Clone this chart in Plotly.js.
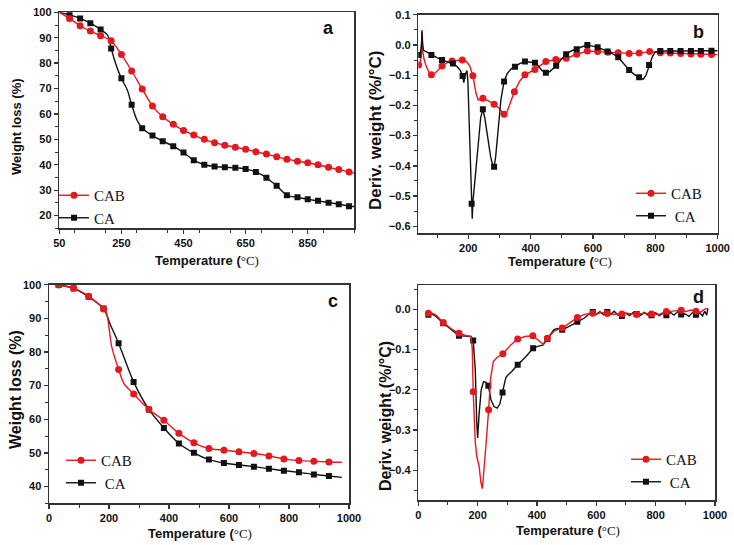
<!DOCTYPE html>
<html>
<head>
<meta charset="utf-8">
<script src="https://cdn.plot.ly/plotly-3.0.1.min.js"></script>
<style>
    html, body { margin: 0; padding: 0; background: #fff; }
    #chart { width: 734px; height: 545px; }
</style>
</head>
<body>
<div id="chart"></div>
<script>
// ── Data (a: TGA, b: DTG, c: TGA, d: DTG) ──
// "Mark" arrays are the sampled points that carry a symbol,
// "Line" arrays are extra points the curve passes through.

const aCabMarkT = [83, 117, 150, 183, 217, 250, 283, 317, 350, 383, 417, 450, 483, 517, 550, 583, 617, 650, 683, 717, 750, 783, 817, 850, 883, 917, 950, 983];
const aCabMarkW = [97.6, 94.7, 92.6, 90.8, 88.8, 83.4, 76.9, 69.8, 63.1, 58.9, 55.9, 53.5, 51.7, 50.0, 48.7, 47.7, 46.9, 46.1, 45.1, 44.2, 43.2, 42.2, 41.4, 40.8, 40.0, 39.0, 38.1, 37.2];
const aCabLineT = [50, 1000];
const aCabLineW = [100, 36.7];
const aCaMarkT  = [83, 117, 150, 183, 217, 250, 283, 317, 350, 383, 417, 450, 483, 517, 550, 583, 617, 650, 683, 717, 750, 783, 817, 850, 883, 917, 950, 983];
const aCaMarkW  = [99.0, 97.6, 95.7, 93.2, 85.8, 74.0, 63.6, 54.4, 51.5, 49.3, 47.3, 44.8, 41.8, 40.0, 39.3, 39.0, 38.8, 38.3, 37.2, 34.9, 31.7, 28.0, 27.2, 26.4, 25.8, 25.1, 24.5, 23.7];
const aCaLineT  = [50, 203, 210, 235, 269, 300, 1000];
const aCaLineW  = [100, 91.3, 89.8, 78.6, 69.4, 57.6, 23.6];

const bCabMarkT = [41, 82, 116, 148, 181, 215, 247, 283, 315, 348, 382, 414, 449, 481, 514, 548, 582, 615, 648, 681, 716, 748, 782, 816, 848, 881, 914, 946, 980];
const bCabMarkV = [-0.066, -0.099, -0.07, -0.053, -0.05, -0.102, -0.176, -0.196, -0.229, -0.155, -0.099, -0.081, -0.055, -0.048, -0.044, -0.031, -0.02, -0.022, -0.024, -0.026, -0.028, -0.027, -0.022, -0.026, -0.027, -0.028, -0.03, -0.031, -0.032];
const bCabLineT = [46, 50, 52, 54, 58, 65, 75, 95, 130, 195, 205, 225, 232, 265, 300, 322, 335, 365, 1000];
const bCabLineV = [-0.06, -0.02, 0.05, -0.02, -0.045, -0.07, -0.092, -0.092, -0.06, -0.055, -0.07, -0.16, -0.182, -0.185, -0.21, -0.228, -0.19, -0.12, -0.032];
const bCaMarkT  = [41, 82, 116, 151, 182, 211, 247, 283, 315, 350, 382, 414, 449, 482, 514, 548, 582, 615, 647, 681, 716, 748, 780, 816, 848, 881, 914, 946, 980];
const bCaMarkV  = [-0.033, -0.033, -0.05, -0.061, -0.103, -0.525, -0.213, -0.403, -0.121, -0.072, -0.055, -0.059, -0.092, -0.069, -0.031, -0.014, 0.0, -0.008, -0.022, -0.041, -0.083, -0.107, -0.066, -0.02, -0.02, -0.02, -0.02, -0.02, -0.019];
const bCaLineT  = [46, 50, 52, 54, 57, 65, 100, 135, 165, 175, 186, 190, 196, 199, 203, 207, 213, 215, 219, 225, 233, 240, 253, 262, 272, 278, 288, 296, 305, 325, 337, 365, 400, 425, 437, 462, 472, 498, 530, 565, 600, 630, 665, 700, 733, 761, 770, 775, 790, 800, 1000];
const bCaLineV  = [-0.03, 0.0, 0.044, 0.0, -0.018, -0.022, -0.042, -0.056, -0.072, -0.085, -0.125, -0.1, -0.085, -0.12, -0.25, -0.4, -0.575, -0.52, -0.469, -0.42, -0.32, -0.24, -0.24, -0.31, -0.37, -0.395, -0.37, -0.27, -0.18, -0.095, -0.08, -0.062, -0.056, -0.07, -0.085, -0.088, -0.078, -0.048, -0.02, -0.006, -0.004, -0.014, -0.03, -0.062, -0.098, -0.114, -0.1, -0.085, -0.04, -0.022, -0.019];

const cCabMarkT = [32, 82, 132, 182, 232, 282, 333, 383, 433, 483, 533, 583, 633, 683, 733, 783, 833, 883, 933];
const cCabMarkW = [99.9, 99.0, 96.6, 92.8, 74.8, 67.5, 62.9, 59.7, 55.8, 53.0, 51.3, 50.8, 50.3, 49.8, 49.1, 48.2, 47.7, 47.5, 47.3];
const cCabLineT = [192, 209, 250, 976];
const cCabLineW = [91.5, 81.6, 70.6, 47.2];
const cCaMarkT  = [32, 82, 132, 182, 232, 282, 333, 383, 433, 483, 533, 583, 633, 683, 733, 783, 833, 883, 933];
const cCaMarkW  = [99.9, 98.9, 96.4, 92.9, 82.6, 71.1, 62.9, 57.4, 52.8, 50.0, 48.0, 47.0, 46.4, 45.9, 45.3, 44.7, 44.2, 43.6, 43.1];
const cCaLineT  = [205, 976];
const cCaLineW  = [88.0, 42.7];

const dCabMarkT = [34, 84, 137, 185, 237, 285, 335, 386, 435, 485, 536, 588, 637, 686, 736, 786, 836, 886, 936];
const dCabMarkV = [-0.01, -0.033, -0.06, -0.205, -0.25, -0.111, -0.074, -0.066, -0.072, -0.047, -0.021, -0.01, -0.011, -0.012, -0.013, -0.012, -0.006, -0.003, -0.005];
const dCabLineT = [40, 60, 110, 160, 178, 182, 192, 197, 205, 211, 216, 222, 230, 244, 253, 265, 310, 360, 400, 421, 460, 510, 560, 600, 620, 650, 700, 760, 810, 860, 900, 920, 950, 965, 976];
const dCabLineV = [-0.008, -0.015, -0.048, -0.065, -0.068, -0.1, -0.33, -0.366, -0.39, -0.43, -0.446, -0.4, -0.32, -0.17, -0.13, -0.12, -0.09, -0.068, -0.075, -0.087, -0.053, -0.035, -0.013, -0.012, -0.008, -0.013, -0.01, -0.01, -0.013, -0.004, -0.006, -0.002, -0.008, 0.0, 0.002];
const dCaMarkT  = [34, 84, 137, 185, 236, 284, 335, 387, 435, 485, 536, 588, 637, 686, 736, 786, 836, 886, 936];
const dCaMarkV  = [-0.014, -0.035, -0.066, -0.078, -0.19, -0.207, -0.138, -0.097, -0.074, -0.051, -0.031, -0.007, -0.007, -0.017, -0.012, -0.015, -0.015, -0.013, -0.014];
const dCaLineT  = [40, 60, 110, 160, 178, 192, 197, 200, 205, 212, 220, 228, 245, 255, 266, 275, 295, 303, 315, 360, 400, 421, 457, 470, 510, 560, 575, 600, 612, 625, 650, 660, 672, 700, 712, 725, 750, 762, 775, 800, 812, 825, 850, 862, 875, 900, 912, 925, 950, 958, 965, 972, 976];
const dCaLineV  = [-0.01, -0.018, -0.05, -0.067, -0.068, -0.15, -0.28, -0.32, -0.26, -0.2, -0.18, -0.182, -0.225, -0.242, -0.246, -0.235, -0.17, -0.163, -0.155, -0.12, -0.093, -0.089, -0.051, -0.048, -0.042, -0.022, -0.012, -0.013, -0.006, -0.014, -0.012, -0.005, -0.014, -0.01, -0.016, -0.008, -0.015, -0.008, -0.015, -0.009, -0.016, -0.01, -0.008, -0.015, -0.006, -0.012, -0.018, -0.008, -0.01, -0.017, -0.005, -0.015, 0.002];

// ── Helpers ──

const W = 734, H = 545;
const RED = "#e3191f", BLACK = "#111111";
const SANS = "Liberation Sans, Arial, sans-serif";
const SERIF = "Liberation Serif, Times New Roman, serif";

function domX(l, r) { return [l / W, r / W]; }
function domY(t, b) { return [1 - b / H, 1 - t / H]; }

function merge(mt, mv, lt, lv) {
    const pts = mt.map((t, i) => [t, mv[i]]).concat(lt.map((t, i) => [t, lv[i]]));
    pts.sort((p, q) => p[0] - q[0]);
    return { x: pts.map(p => p[0]), y: pts.map(p => p[1]) };
}

function series(ax, name, color, symbol, mt, mv, lt, lv, shape) {
    const full = merge(mt, mv, lt, lv);
    const xa = "x" + ax, ya = "y" + ax;
    return [
        { x: full.x, y: full.y, xaxis: xa, yaxis: ya, mode: "lines", showlegend: false,
          line: { color: color, width: 1.4, shape: shape, smoothing: 0.8 }, hoverinfo: "skip" },
        { x: mt, y: mv, xaxis: xa, yaxis: ya, mode: "markers", showlegend: false,
          marker: { color: color, symbol: symbol, size: symbol === "square" ? 6 : 7 } }
    ];
}

// legend-only entry (no data drawn)
function legendItem(ax, leg, name, color, symbol) {
    return { x: [null], y: [null], xaxis: "x" + ax, yaxis: "y" + ax, legend: leg, name: name,
             mode: "lines+markers", line: { color: color, width: 1.4 },
             marker: { color: color, symbol: symbol, size: symbol === "square" ? 6 : 7 } };
}

// ── Traces ──

const traces = [].concat(
    series("", "CA", BLACK, "square", aCaMarkT, aCaMarkW, aCaLineT, aCaLineW, "spline"),
    series("", "CAB", RED, "circle", aCabMarkT, aCabMarkW, aCabLineT, aCabLineW, "spline"),
    series("2", "CAB", RED, "circle", bCabMarkT, bCabMarkV, bCabLineT, bCabLineV, "linear"),
    series("2", "CA", BLACK, "square", bCaMarkT, bCaMarkV, bCaLineT, bCaLineV, "linear"),
    series("3", "CA", BLACK, "square", cCaMarkT, cCaMarkW, cCaLineT, cCaLineW, "spline"),
    series("3", "CAB", RED, "circle", cCabMarkT, cCabMarkW, cCabLineT, cCabLineW, "spline"),
    series("4", "CA", BLACK, "square", dCaMarkT, dCaMarkV, dCaLineT, dCaLineV, "linear"),
    series("4", "CAB", RED, "circle", dCabMarkT, dCabMarkV, dCabLineT, dCabLineV, "linear"),
    [
        legendItem("", "legend", "CAB", RED, "circle"),
        legendItem("", "legend", "CA", BLACK, "square"),
        legendItem("2", "legend2", "CAB", RED, "circle"),
        legendItem("2", "legend2", "\u00a0CA", BLACK, "square"),
        legendItem("3", "legend3", "CAB", RED, "circle"),
        legendItem("3", "legend3", "\u00a0CA", BLACK, "square"),
        legendItem("4", "legend4", "CAB", RED, "circle"),
        legendItem("4", "legend4", "\u00a0CA", BLACK, "square")
    ]
);

// ── Layout ──

function axis(extra) {
    return Object.assign({
        showline: true, mirror: true, linecolor: "#333", linewidth: 1.5,
        ticks: "outside", ticklen: 4, tickwidth: 1.3, tickcolor: "#333",
        showgrid: false, zeroline: false, fixedrange: true,
        tickfont: { family: SANS, size: 11, weight: "bold", color: "#111" }
    }, extra);
}

function minor(d) {
    return { dtick: d, ticks: "outside", ticklen: 3, tickwidth: 1, tickcolor: "#333", showgrid: false };
}

function legendAt(left, top) {
    return { x: left / W, y: 1 - top / H, xanchor: "left", yanchor: "top",
             bgcolor: "rgba(0,0,0,0)", borderwidth: 0, tracegroupgap: 0,
             font: { family: SERIF, size: 15, color: "#111" } };
}

function label(text, px, py, size, angle, extra) {
    return Object.assign({
        text: text, xref: "paper", yref: "paper", x: px / W, y: 1 - py / H,
        xanchor: "center", yanchor: "middle", showarrow: false, textangle: angle || 0,
        font: { family: SANS, size: size, weight: "bold", color: "#111" }
    }, extra);
}

const tempTitle = 'Temperature (<span style="font-family:Liberation Serif;font-weight:normal">°C)</span>';
const dtgTitle = 'Deriv. weight (%/°C)';

const layout = {
    width: W, height: H,
    margin: { l: 0, r: 0, t: 0, b: 0 },
    paper_bgcolor: "#fff", plot_bgcolor: "#fff",
    showlegend: true,

    xaxis:  axis({ domain: domX(59.3, 354.3), range: [50, 1000], tick0: 50, dtick: 200, minor: minor(100), anchor: "y" }),
    yaxis:  axis({ domain: domY(12.3, 228.3), range: [15, 100], dtick: 10, minor: minor(5), anchor: "x" }),
    xaxis2: axis({ domain: domX(418.3, 717.7), range: [40, 1000], tick0: 0, dtick: 200, minor: minor(100), anchor: "y2" }),
    yaxis2: axis({ domain: domY(14.7, 233.3), range: [-0.623, 0.1], tick0: 0, dtick: 0.1, tickformat: ".1f", minor: minor(0.05), anchor: "x2" }),
    xaxis3: axis({ domain: domX(49, 349), range: [0, 1000], tick0: 0, dtick: 200, minor: minor(100), anchor: "y3" }),
    yaxis3: axis({ domain: domY(284.7, 503.3), range: [35, 100], dtick: 10, minor: minor(5), anchor: "x3" }),
    xaxis4: axis({ domain: domX(418.3, 715), range: [0, 1000], tick0: 0, dtick: 200, minor: minor(100), anchor: "y4" }),
    yaxis4: axis({ domain: domY(285, 500), range: [-0.474, 0.06], tick0: 0, dtick: 0.1, tickformat: ".1f", minor: minor(0.05), anchor: "x4" }),

    legend:  legendAt(54, 179),
    legend2: legendAt(631, 177),
    legend3: legendAt(61, 444),
    legend4: legendAt(626, 443),

    annotations: [
        label("a", 328, 28, 18),
        label("b", 698, 32, 18),
        label("c", 333, 301, 18),
        label("d", 698, 297, 18),
        label("Weight loss (%)", 16, 127, 13, -90),
        label("Weight loss (%)", 15, 390, 16, -90),
        label(dtgTitle, 375, 130, 17, -90),
        label(dtgTitle, 385, 416, 16, -90),
        label(tempTitle, 207, 260, 13),
        label(tempTitle, 560, 261, 13),
        label(tempTitle, 200, 533, 13),
        label(tempTitle, 568, 530, 13)
    ]
};

Plotly.newPlot("chart", traces, layout, { displayModeBar: false, staticPlot: true });
</script>
</body>
</html>
